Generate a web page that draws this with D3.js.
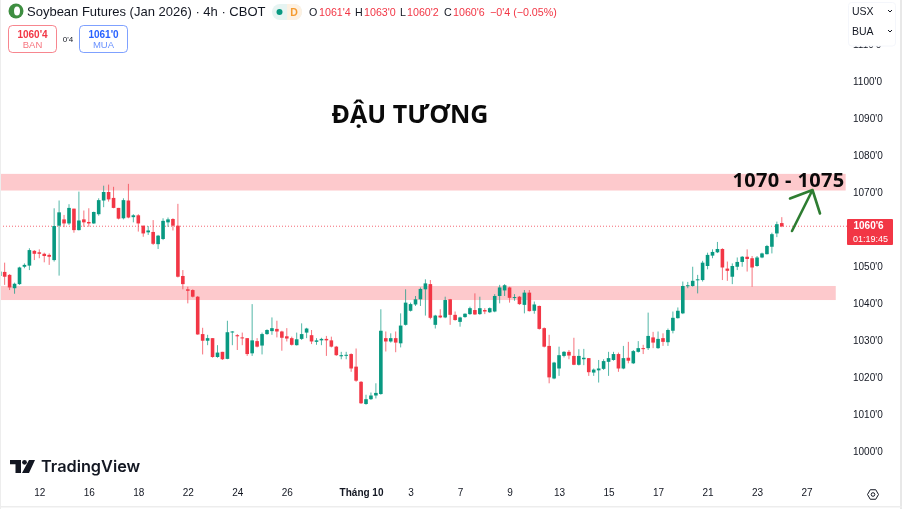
<!DOCTYPE html>
<html><head><meta charset="utf-8">
<script src="https://cdn.jsdelivr.net/npm/d3@7"></script>
<style>
html,body{margin:0;padding:0;background:#fff;overflow:hidden}
svg{display:block;filter:blur(0.3px)}
text{font-family:"Liberation Sans",Arial,sans-serif}
</style></head><body>
<svg id="c" width="902" height="509"></svg>
<script>
const opens=[1047.3,1048.4,1047.6,1044.0,1045.1,1049.8,1050.1,1054.1,1053.7,1053.3,1053.0,1051.6,1060.9,1062.6,1061.5,1065.5,1059.7,1062.6,1061.9,1061.5,1064.0,1067.7,1070.0,1068.4,1065.7,1062.9,1067.7,1063.2,1063.7,1060.9,1059.1,1059.2,1055.9,1057.3,1061.8,1062.7,1060.9,1047.3,1043.7,1043.5,1041.7,1031.6,1029.8,1030.5,1025.4,1026.8,1024.9,1032.1,1031.3,1030.7,1030.5,1026.4,1029.7,1028.5,1031.6,1032.4,1033.0,1032.3,1031.0,1030.5,1028.6,1030.3,1032.0,1031.3,1029.5,1029.9,1030.3,1029.9,1028.2,1025.6,1025.8,1026.2,1022.8,1018.7,1012.7,1014.0,1015.0,1015.4,1030.5,1029.6,1030.5,1029.1,1034.1,1037.9,1039.6,1041.0,1043.7,1045.1,1034.1,1036.6,1036.1,1041.0,1036.8,1034.9,1036.2,1037.0,1038.1,1037.0,1038.1,1037.5,1037.7,1041.9,1043.4,1044.2,1041.4,1041.7,1039.5,1042.8,1037.9,1039.2,1033.2,1028.4,1019.6,1022.3,1025.7,1026.8,1025.7,1023.3,1024.8,1025.1,1021.2,1021.8,1022.2,1024.1,1024.6,1026.2,1022.3,1025.2,1023.7,1026.8,1027.8,1027.8,1030.7,1027.8,1030.5,1029.4,1032.5,1035.9,1037.2,1044.6,1044.6,1046.2,1046.2,1050.0,1052.8,1053.7,1054.6,1049.3,1047.1,1049.8,1051.1,1052.5,1052.1,1050.0,1052.3,1053.2,1055.2,1058.8,1061.6];
const highs=[1049.0,1050.9,1047.8,1045.5,1049.8,1050.7,1054.8,1054.3,1054.5,1053.6,1053.4,1065.6,1067.7,1063.8,1066.7,1065.5,1070.1,1065.0,1065.6,1064.7,1068.3,1071.7,1072.0,1071.4,1065.7,1068.3,1072.2,1064.0,1064.0,1060.9,1060.8,1062.4,1058.4,1062.9,1063.1,1062.9,1066.8,1048.9,1044.4,1043.7,1041.9,1033.3,1031.4,1030.5,1028.6,1026.8,1035.2,1032.4,1031.6,1032.0,1030.5,1039.7,1030.5,1032.0,1032.9,1036.1,1035.2,1032.5,1033.2,1030.9,1032.0,1034.5,1033.3,1032.7,1030.5,1030.6,1031.1,1030.9,1028.4,1026.8,1026.8,1026.4,1027.7,1018.9,1015.2,1015.8,1018.3,1038.3,1032.3,1031.8,1032.3,1037.2,1043.7,1040.1,1041.9,1044.2,1046.4,1046.2,1036.8,1038.3,1041.7,1041.1,1037.7,1036.3,1037.2,1039.0,1042.6,1041.7,1038.6,1038.8,1042.4,1044.9,1045.1,1044.4,1042.4,1041.9,1043.5,1043.5,1040.4,1039.3,1033.4,1031.4,1024.1,1028.2,1027.0,1027.3,1030.6,1027.5,1027.6,1025.1,1022.3,1024.6,1024.8,1026.8,1026.8,1026.6,1028.4,1029.5,1027.3,1029.7,1028.7,1037.4,1032.2,1032.3,1031.8,1033.1,1037.7,1038.8,1045.8,1045.7,1049.8,1047.6,1051.4,1053.6,1054.5,1056.5,1054.8,1051.2,1050.7,1052.3,1052.7,1054.5,1052.7,1052.7,1053.6,1055.7,1059.0,1062.0,1063.2];
const lows=[1047.0,1044.9,1043.5,1042.5,1044.9,1049.4,1048.9,1051.6,1052.1,1051.0,1050.3,1051.2,1047.4,1060.5,1061.1,1059.0,1059.6,1060.6,1060.6,1061.4,1063.6,1065.9,1067.4,1065.6,1062.6,1062.6,1062.9,1061.8,1059.3,1057.9,1058.4,1055.7,1054.6,1057.0,1060.6,1059.6,1046.9,1043.7,1039.9,1041.5,1031.4,1026.1,1028.6,1025.2,1025.2,1024.6,1024.8,1028.6,1027.3,1028.6,1025.7,1025.7,1028.0,1026.1,1031.4,1031.4,1030.7,1027.1,1029.6,1028.5,1028.5,1030.0,1030.5,1028.9,1028.7,1028.6,1025.7,1028.0,1025.7,1024.8,1024.8,1021.4,1018.7,1012.7,1012.5,1013.8,1014.2,1015.2,1026.9,1029.3,1026.7,1028.0,1033.9,1037.7,1039.2,1039.2,1036.6,1035.6,1033.1,1035.9,1035.9,1034.1,1035.2,1033.6,1036.0,1036.8,1036.8,1036.8,1037.0,1037.3,1037.5,1039.9,1041.9,1040.1,1040.6,1039.5,1037.2,1037.7,1037.1,1032.8,1028.0,1018.3,1019.4,1020.3,1025.3,1024.8,1023.2,1023.1,1023.2,1020.3,1020.3,1018.5,1021.9,1020.3,1024.4,1021.4,1022.1,1023.7,1023.5,1026.6,1026.2,1027.3,1027.8,1027.6,1028.4,1028.4,1031.8,1035.8,1037.0,1044.0,1044.4,1042.6,1045.8,1049.1,1052.1,1053.5,1046.2,1046.0,1045.1,1048.9,1049.8,1048.5,1044.4,1049.8,1052.1,1053.1,1053.4,1057.8,1060.5];
const closes=[1048.5,1047.1,1044.2,1045.2,1049.6,1050.3,1054.3,1053.3,1053.3,1052.7,1052.5,1060.8,1064.5,1061.5,1065.7,1059.7,1062.3,1061.8,1061.5,1064.6,1067.8,1070.0,1068.0,1065.7,1062.8,1067.8,1063.1,1063.7,1061.5,1058.8,1059.6,1056.0,1058.2,1062.2,1062.6,1060.9,1047.1,1045.1,1043.3,1041.7,1031.5,1029.8,1030.5,1025.4,1026.6,1024.8,1032.1,1032.3,1031.0,1030.5,1026.2,1029.9,1028.2,1031.6,1032.7,1033.2,1032.3,1030.6,1030.4,1028.7,1030.2,1031.6,1033.1,1029.6,1029.9,1030.3,1029.9,1028.2,1025.9,1025.9,1026.0,1022.3,1019.0,1012.9,1014.0,1015.0,1015.7,1032.5,1029.6,1030.5,1029.3,1033.9,1040.1,1039.7,1041.0,1043.8,1045.3,1036.0,1036.6,1036.1,1040.8,1036.8,1035.4,1036.1,1037.1,1038.6,1036.9,1038.6,1037.7,1038.6,1041.9,1044.2,1044.8,1041.4,1041.6,1039.7,1042.8,1037.8,1039.6,1033.0,1028.2,1019.9,1023.9,1025.9,1026.8,1025.8,1023.3,1025.7,1025.2,1021.3,1022.0,1022.3,1024.3,1025.1,1026.2,1022.3,1025.1,1024.4,1027.0,1027.8,1027.7,1031.1,1029.3,1030.3,1029.5,1032.7,1036.0,1037.9,1044.6,1044.8,1046.0,1046.4,1050.9,1053.0,1053.8,1054.6,1049.6,1048.7,1050.0,1051.1,1052.5,1051.9,1049.6,1052.3,1053.4,1055.4,1058.6,1061.3,1060.7];

const priceTicks=[1000,1010,1020,1030,1040,1050,1070,1080,1090,1100,1110];
const timeTickIndex=[8,18,28,38,48,58,73,83,93,103,113,123,133,143,153,163];
const timeTickLabels=["12","16","18","22","24","26","Tháng 10","3","7","9","13","15","17","21","23","27"];
const zones=[{hi:1074.9,lo:1070.4,end:170.9},{hi:1044.6,lo:1040.8,end:168.9}];
const lastPrice=1060.75;
const ohlcLabels=[["O","1061'4",309,319],["H","1063'0",355,364],["L","1060'2",400,407],["C","1060'6",444,453]];

const GREEN="#089981",RED="#F23645",INK="#131722";
const svg=d3.select("#c");
const x=d3.scaleLinear().domain([0,100]).range([-0.3,494.7]);
const y=d3.scaleLinear().domain([1000,1100]).range([451,81]);
const fmt=v=>`${v}'0`;

// zones
svg.append("g").selectAll("rect").data(zones).join("rect")
  .attr("x",0).attr("width",d=>x(d.end)).attr("y",d=>y(d.hi)).attr("height",d=>y(d.lo)-y(d.hi))
  .attr("fill","#FDC9CC");

// last price line
svg.append("line").attr("x1",0).attr("x2",847).attr("y1",y(lastPrice)).attr("y2",y(lastPrice))
  .attr("stroke",RED).attr("stroke-opacity",.75).attr("stroke-width",1).attr("stroke-dasharray","1 2");

// candles
const idx=d3.range(opens.length);
const col=i=>closes[i]>=opens[i]?GREEN:RED;
const g=svg.append("g");
g.selectAll("line").data(idx).join("line")
  .attr("x1",i=>x(i)).attr("x2",i=>x(i)).attr("y1",i=>y(highs[i])).attr("y2",i=>y(lows[i]))
  .attr("stroke",col).attr("stroke-opacity",.7).attr("stroke-width",1);
g.selectAll("rect").data(idx).join("rect")
  .attr("x",i=>x(i)-1.8).attr("width",3.6)
  .attr("y",i=>y(Math.max(opens[i],closes[i])))
  .attr("height",i=>Math.max(1,Math.abs(y(opens[i])-y(closes[i]))))
  .attr("fill",col);

// price axis
const ay=d3.axisRight(y).tickValues(priceTicks).tickFormat(fmt).tickSize(0).tickPadding(0);
const gy=svg.append("g").attr("transform","translate(853,0)").call(ay);
gy.select(".domain").remove();
gy.selectAll("text").attr("font-size",10).attr("fill",INK);

// time axis
const ax=d3.axisBottom(x).tickValues(timeTickIndex).tickFormat((d,i)=>timeTickLabels[i]).tickSize(0).tickPadding(0);
const gx=svg.append("g").attr("transform","translate(0,489)").call(ax);
gx.select(".domain").remove();
gx.selectAll("text").attr("font-size",10).attr("fill",INK)
  .attr("font-weight",(d,i)=>timeTickLabels[i].length>2?"bold":"normal");

// top-right selector panel
svg.append("rect").attr("x",848.5).attr("y",2.5).attr("width",47).attr("height",43.5).attr("rx",3)
  .attr("fill","#fff").attr("stroke","#F4F6FB");
[["USX",11],["BUA",31]].forEach(([t,yy])=>{
  svg.append("text").attr("x",852).attr("y",yy).attr("dy",".35em").attr("font-size",10.5).attr("fill",INK).text(t);
  svg.append("path").attr("d",`M888 ${yy-1}l2 2l2 -2`).attr("fill","none").attr("stroke",INK).attr("stroke-width",1);
});

// last price tag
svg.append("rect").attr("x",847).attr("y",219).attr("width",46).attr("height",26).attr("rx",1).attr("fill",RED);
svg.append("text").attr("x",853.5).attr("y",225.5).attr("dy",".35em").attr("font-size",10).attr("font-weight","bold").attr("fill","#fff").text("1060'6");
svg.append("text").attr("x",853).attr("y",238.5).attr("dy",".35em").attr("font-size",9).attr("fill","#fff").text("01:19:45");

// header
svg.append("circle").attr("cx",16).attr("cy",11).attr("r",7.5).attr("fill","#3E8E41");
svg.append("ellipse").attr("cx",17).attr("cy",11).attr("rx",3).attr("ry",4.5).attr("fill","#fff");
svg.append("text").attr("x",27).attr("y",11).attr("dy",".35em").attr("font-size",13).attr("fill",INK).text("Soybean Futures (Jan 2026) · 4h · CBOT");
svg.append("rect").attr("x",272).attr("y",4).attr("width",30).attr("height",16).attr("rx",8).attr("fill","#E6F4F2");
svg.append("path").attr("d","M287 4h7a8 8 0 0 1 0 16h-7z").attr("fill","#FDF1E2");
svg.append("circle").attr("cx",279.5).attr("cy",12).attr("r",3).attr("fill",GREEN);
svg.append("text").attr("x",294).attr("y",12).attr("dy",".35em").attr("text-anchor","middle").attr("font-size",10.5).attr("font-weight","bold").attr("fill","#F59B30").text("D");
ohlcLabels.forEach(([k,v,a,b])=>{
  svg.append("text").attr("x",a).attr("y",12).attr("dy",".35em").attr("font-size",10.7).attr("fill",INK).text(k);
  svg.append("text").attr("x",b).attr("y",12).attr("dy",".35em").attr("font-size",10.7).attr("fill",RED).text(v);
});
svg.append("text").attr("x",490).attr("y",12).attr("dy",".35em").attr("font-size",10.7).attr("fill",RED).text("−0'4 (−0.05%)");

// bid / ask buttons
[[8.5,"1060'4","BAN",RED],[79.5,"1061'0","MUA","#2962FF"]].forEach(([bx,p,l,c])=>{
  svg.append("rect").attr("x",bx).attr("y",25.5).attr("width",48).attr("height",27).attr("rx",4)
    .attr("fill","#fff").attr("stroke",c).attr("stroke-opacity",.6);
  svg.append("text").attr("x",bx+24).attr("y",34).attr("dy",".35em").attr("text-anchor","middle").attr("font-size",10).attr("font-weight","bold").attr("fill",c).text(p);
  svg.append("text").attr("x",bx+24).attr("y",45).attr("dy",".35em").attr("text-anchor","middle").attr("font-size",9.5).attr("fill",c).attr("fill-opacity",.7).text(l);
});
svg.append("text").attr("x",68).attr("y",39).attr("dy",".35em").attr("text-anchor","middle").attr("font-size",8).attr("fill",INK).text("0'4");

// annotations
svg.append("text").attr("x",410).attr("y",114).attr("dy",".35em").attr("text-anchor","middle")
  .style("font-family","'Open Sans',sans-serif").attr("font-size",25).attr("font-weight","bold").attr("fill","#0a0a0a").text("ĐẬU TƯƠNG");
svg.append("text").attr("x",788.5).attr("y",179.5).attr("dy",".35em").attr("text-anchor","middle")
  .style("font-family","'Open Sans',sans-serif").style("letter-spacing","0.35px").attr("font-size",20).attr("font-weight","bold").attr("fill","#0a0a0a").text("1070 - 1075");

// green arrow
svg.append("path").attr("d","M792 231L812.5 190M790 198.5L812.5 190L820 213.5")
  .attr("fill","none").attr("stroke","#2E7D32").attr("stroke-width",2.6).attr("stroke-linecap","round").attr("stroke-linejoin","round");

// logo
svg.append("path").attr("d","M10 460h11v13h-5.5v-8.7h-5.5z M29 460h6l-6 13h-7z").attr("fill",INK);
svg.append("circle").attr("cx",24.5).attr("cy",462.3).attr("r",2.4).attr("fill",INK);
svg.append("text").attr("x",41).attr("y",466.5).attr("dy",".35em").style("font-family","Inter,sans-serif").attr("font-size",16.3).attr("font-weight","600").attr("fill",INK).text("TradingView");

// gear
svg.append("path").attr("d",d3.line()(d3.range(6).map(k=>[873+5.5*Math.cos(k*Math.PI/3),494.5+5.5*Math.sin(k*Math.PI/3)]))+"Z").attr("fill","none").attr("stroke",INK).attr("stroke-width",1);
svg.append("circle").attr("cx",873).attr("cy",494.5).attr("r",1.8).attr("fill","none").attr("stroke",INK);

// window edges
svg.append("rect").attr("x",0).attr("y",0).attr("width",1).attr("height",509).attr("fill","#EDEDED");
svg.append("rect").attr("x",900).attr("y",0).attr("width",2).attr("height",509).attr("fill","#E8E8E8");
svg.append("rect").attr("x",0).attr("y",506).attr("width",902).attr("height",1.5).attr("fill","#EDEDED");
</script>
</body></html>
